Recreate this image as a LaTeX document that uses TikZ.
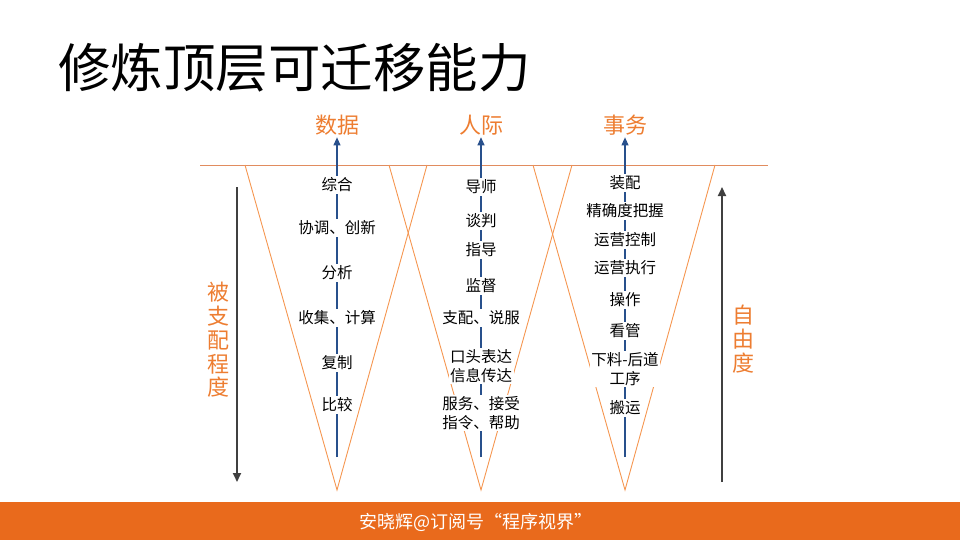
\documentclass[tikz,border=0pt]{standalone}
\usepackage{fontspec}
\setmainfont{Noto Sans CJK SC}
\usetikzlibrary{arrows.meta}
\definecolor{orangeT}{RGB}{237,125,49}
\definecolor{orangeL}{RGB}{245,150,80}
\definecolor{hline}{RGB}{225,140,95}
\definecolor{blueA}{RGB}{40,80,140}
\definecolor{grayA}{RGB}{64,64,64}
\definecolor{footer}{RGB}{233,106,28}
\pgfdeclarelayer{bg}
\pgfsetlayers{bg,main}
\tikzset{
  lbl/.style={fill=white, inner sep=1.5pt, align=center, font=\fontsize{15.5}{18.5}\selectfont},
  head/.style={text=orangeT, inner sep=2pt, font=\fontsize{22}{26}\selectfont},
  side/.style={text=orangeT, inner sep=0pt, align=center, font=\fontsize{22}{23.8}\selectfont},
  tri/.style={draw=orangeL, line width=0.9pt},
  bluearrow/.style={draw=blueA, line width=1.1pt, -{Triangle[length=8pt,width=7pt]}},
  grayarrow/.style={draw=grayA, line width=2pt, -{Triangle[length=9pt,width=8pt]}},
}
\begin{document}
\begin{tikzpicture}[x=1pt,y=-1pt]
\useasboundingbox (0,0) rectangle (960,540);
% footer
\fill[footer] (0,502) rectangle (960,540);
\node[text=white, inner sep=0pt, font=\fontsize{18}{20}\selectfont] (foot) at (476,522) {安晓辉@订阅号“程序视界”};
% title
\node[anchor=west, inner sep=0pt, font=\fontsize{52.5}{60}\selectfont] (title) at (58,68) {修炼顶层可迁移能力};
% headings
\node[head] (h1) at (337,125) {数据};
\node[head] (h2) at (481,125) {人际};
\node[head] (h3) at (625,125) {事务};
% column 1
\node[lbl] (a1) at (337,185) {综合};
\node[lbl] (a2) at (337,228) {协调、创新};
\node[lbl] (a3) at (337,273) {分析};
\node[lbl] (a4) at (337,318) {收集、计算};
\node[lbl] (a5) at (337,363) {复制};
\node[lbl] (a6) at (337,405) {比较};
% column 2
\node[lbl] (b1) at (481,187) {导师};
\node[lbl] (b2) at (481,221) {谈判};
\node[lbl] (b3) at (481,250) {指导};
\node[lbl] (b4) at (481,286) {监督};
\node[lbl] (b5) at (481,318) {支配、说服};
\node[lbl] (b6) at (481,366) {口头表达\\信息传达};
\node[lbl] (b7) at (481,413) {服务、接受\\指令、帮助};
% column 3
\node[lbl] (c1) at (625,183) {装配};
\node[lbl] (c2) at (625,211) {精确度把握};
\node[lbl] (c3) at (625,240) {运营控制};
\node[lbl] (c4) at (625,268) {运营执行};
\node[lbl] (c5) at (625,300) {操作};
\node[lbl] (c6) at (625,331) {看管};
\node[lbl] (c7) at (625,369) {下料-后道\\工序};
\node[lbl] (c8) at (625,408) {搬运};
% side labels
\node[side] (s1) at (218,340) {被\\支\\配\\程\\度};
\node[side] (s2) at (743,339) {自\\由\\度};
% coordinates
\coordinate (L0) at (200,165);
\coordinate (L1) at (768,165);
\coordinate (t1a) at (245,165); \coordinate (t1b) at (427,165); \coordinate (t1c) at (337,490);
\coordinate (t2a) at (389,165); \coordinate (t2b) at (572,165); \coordinate (t2c) at (481,490);
\coordinate (t3a) at (533,165); \coordinate (t3b) at (715,165); \coordinate (t3c) at (625,490);
\coordinate (e1) at (337,457);
\coordinate (e2) at (481,457);
\coordinate (e3) at (625,457);
\coordinate (ga) at (237,187); \coordinate (gb) at (237,482);
\coordinate (gc) at (722,482); \coordinate (gd) at (722,187);
\begin{pgfonlayer}{bg}
\draw[draw=hline, line width=0.9pt] (L0) -- (L1);
\draw[tri] (t1a) -- (t1c) -- (t1b);
\draw[tri] (t2a) -- (t2c) -- (t2b);
\draw[tri] (t3a) -- (t3c) -- (t3b);
\draw[bluearrow] (e1) -- (h1);
\draw[bluearrow] (e2) -- (h2);
\draw[bluearrow] (e3) -- (h3);
\end{pgfonlayer}
\draw[grayarrow] (ga) -- (gb);
\draw[grayarrow] (gc) -- (gd);
\end{tikzpicture}
\end{document}
